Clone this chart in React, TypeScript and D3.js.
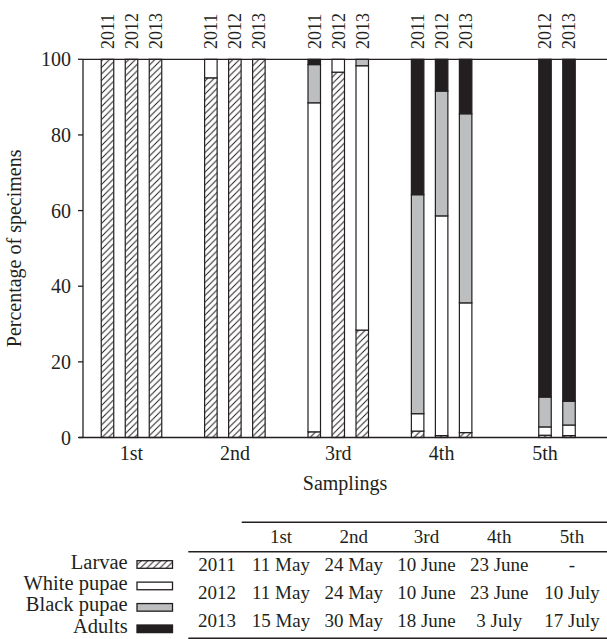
import * as d3 from "d3";

const samplings = ["1st", "2nd", "3rd", "4th", "5th"];
const years = ["2011", "2012", "2013"];
const stages = ["Larvae", "White pupae", "Black pupae", "Adults"];

// percentage of specimens per sampling, one value per year (null = not sampled)
const larvae = [[100, 100, 100], [95.1, 100, 100], [1.5, 96.6, 28.4], [1.7, 0.5, 1.3], [null, 0.6, 0.5]];
const whitePupae = [[0, 0, 0], [4.9, 0, 0], [87, 3.4, 69.9], [4.6, 58.1, 34.3], [null, 2.2, 2.8]];
const blackPupae = [[0, 0, 0], [0, 0, 0], [10.1, 0, 1.7], [57.9, 33, 50], [null, 7.9, 6.3]];
const adults = [[0, 0, 0], [0, 0, 0], [1.4, 0, 0], [35.8, 8.4, 14.4], [null, 89.3, 90.4]];

const yTicks = [0, 20, 40, 60, 80, 100];

// sampling dates table
const dates2011 = ["11 May", "24 May", "10 June", "23 June", "-"];
const dates2012 = ["11 May", "24 May", "10 June", "23 June", "10 July"];
const dates2013 = ["15 May", "30 May", "18 June", "3 July", "17 July"];

const INK = "#231f20";
const FONT = "Liberation Serif, Times New Roman, serif";
const fills: Record<string, string> = {
  Larvae: "url(#hatch)",
  "White pupae": "#ffffff",
  "Black pupae": "#bcbec0",
  Adults: INK,
};

const W = 607;
const H = 639;
const top = 59.3;
const bottom = 437.5;
const left = 83;
const barW = 12.5;

export default function App() {
  const y = d3.scaleLinear().domain([0, 100]).range([bottom, top]);
  const xGroup = d3.scalePoint<string>().domain(samplings).range([131.5, 545]);
  const xYear = d3.scalePoint<string>().domain(years).range([-24, 24]);
  const cx = (s: string, yr: string) => (xGroup(s) ?? 0) + (xYear(yr) ?? 0);

  const rows = samplings
    .flatMap((s, i) =>
      years.map((yr, j) => ({
        sampling: s,
        year: yr,
        Larvae: larvae[i][j],
        "White pupae": whitePupae[i][j],
        "Black pupae": blackPupae[i][j],
        Adults: adults[i][j],
      }))
    )
    .filter((r) => r.Larvae !== null);

  const series = d3.stack<any>().keys(stages)(rows);

  // table
  const tableYears = years;
  const tableDates = [dates2011, dates2012, dates2013];
  const xCol = d3.scalePoint<string>().domain(samplings).range([281, 572]);
  const yRow = d3.scalePoint<string>().domain(tableYears).range([571, 626.7]);
  const legendRow = d3.scalePoint<string>().domain(stages).range([560.7, 625]);

  return (
    <svg
      width={W}
      height={H}
      style={{ position: "absolute", left: 0, top: 0, background: "#fff", fontFamily: FONT }}
      fill={INK}
    >
      <defs>
        <pattern id="hatch" patternUnits="userSpaceOnUse" width={6.5} height={6.5}>
          <rect width={6.5} height={6.5} fill="#fff" />
          <path d="M-1,1 l2,-2 M0,6.5 l6.5,-6.5 M5.5,7.5 l2,-2" stroke={INK} strokeWidth={1} />
        </pattern>
      </defs>

      {/* bars */}
      {series.map((layer) =>
        layer.map((d: any, i: number) => {
          const h = y(d[0]) - y(d[1]);
          if (h <= 0) return null;
          return (
            <rect
              key={layer.key + i}
              x={cx(d.data.sampling, d.data.year) - barW / 2}
              y={y(d[1])}
              width={barW}
              height={h}
              fill={fills[layer.key]}
              stroke={INK}
              strokeWidth={1.2}
            />
          );
        })
      )}

      {/* year labels above bars */}
      {rows.map((r) => (
        <text
          key={r.sampling + r.year}
          transform={`translate(${cx(r.sampling, r.year)},49) rotate(-90)`}
          dy="0.35em"
          fontSize={18}
        >
          {r.year}
        </text>
      ))}

      {/* axes */}
      <line x1={left} x2={W} y1={top} y2={top} stroke={INK} strokeWidth={1.3} />
      <line x1={left - 4} x2={W} y1={bottom} y2={bottom} stroke={INK} strokeWidth={1.3} />
      <line x1={left} x2={left} y1={top} y2={bottom} stroke={INK} strokeWidth={1.3} />
      {yTicks.map((t) => (
        <g key={t}>
          <line x1={left - 5} x2={left} y1={y(t)} y2={y(t)} stroke={INK} strokeWidth={1.3} />
          <text x={left - 12} y={y(t)} dy="0.35em" textAnchor="end" fontSize={20}>
            {t}
          </text>
        </g>
      ))}
      <text transform={`translate(21,${(top + bottom) / 2}) rotate(-90)`} textAnchor="middle" fontSize={20}>
        Percentage of specimens
      </text>

      {samplings.map((s) => (
        <text key={s} x={xGroup(s)} y={460} textAnchor="middle" fontSize={20}>
          {s}
        </text>
      ))}
      <text x={(left + W) / 2} y={490} textAnchor="middle" fontSize={20}>
        Samplings
      </text>

      {/* legend */}
      {stages.map((s) => (
        <g key={s}>
          <text x={127.7} y={(legendRow(s) ?? 0) + 7.8} textAnchor="end" fontSize={20.5}>
            {s}
          </text>
          <rect
            x={137}
            y={legendRow(s)}
            width={35.5}
            height={7.6}
            fill={fills[s]}
            stroke={INK}
            strokeWidth={1.3}
          />
        </g>
      ))}

      {/* sampling dates table */}
      <line x1={241.7} x2={W} y1={522.3} y2={522.3} stroke={INK} strokeWidth={1.6} />
      <line x1={188.3} x2={W} y1={551.7} y2={551.7} stroke={INK} strokeWidth={1.6} />
      <line x1={188.3} x2={W} y1={638.2} y2={638.2} stroke={INK} strokeWidth={1.6} />
      {samplings.map((s) => (
        <text key={s} x={xCol(s)} y={543.3} textAnchor="middle" fontSize={19}>
          {s}
        </text>
      ))}
      {tableYears.map((yr, i) => (
        <g key={yr}>
          <text x={217} y={yRow(yr)} textAnchor="middle" fontSize={19}>
            {yr}
          </text>
          {tableDates[i].map((d, j) => (
            <text key={j} x={xCol(samplings[j])} y={yRow(yr)} textAnchor="middle" fontSize={19}>
              {d}
            </text>
          ))}
        </g>
      ))}
    </svg>
  );
}
